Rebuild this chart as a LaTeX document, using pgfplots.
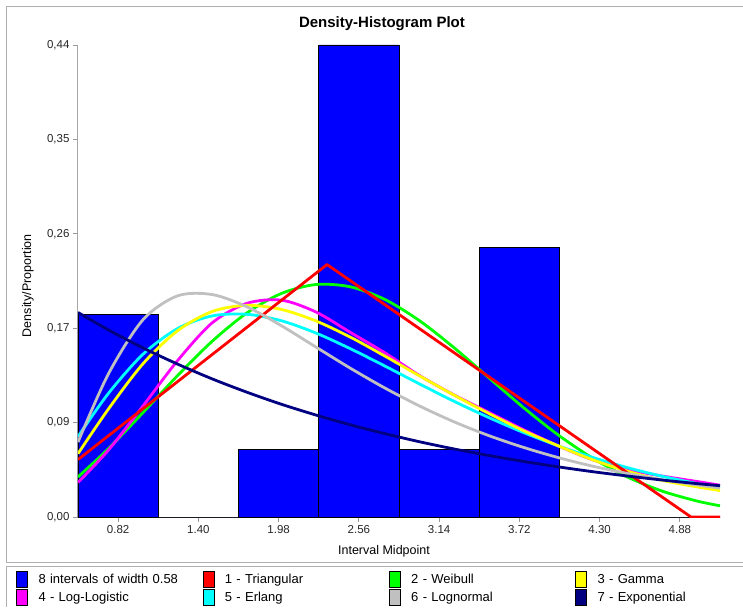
\documentclass[border=0pt]{standalone}
\usepackage{fontspec}
\setmainfont{Liberation Sans}
\usepackage{pgfplots}
\pgfplotsset{compat=1.18}
\usepackage{pgfplotstable}

\definecolor{hblue}{RGB}{0,0,255}
\definecolor{hred}{RGB}{255,0,0}
\definecolor{hgreen}{RGB}{0,255,0}
\definecolor{hyellow}{RGB}{255,255,0}
\definecolor{hmag}{RGB}{255,0,255}
\definecolor{hcyan}{RGB}{0,255,255}
\definecolor{hgray}{RGB}{192,192,192}
\definecolor{hnavy}{RGB}{0,0,128}
\definecolor{framegray}{RGB}{175,175,175}

\pgfplotstableread{
x    p
0.53 0.1875
1.11 0
1.69 0.0625
2.27 0.4375
2.85 0.0625
3.43 0.25
4.01 0
4.59 0
5.17 0
}\hist

\pgfplotstableread{
x    tri
0.53 0.0532
2.33 0.234
4.96 0
5.17 0
}\tri

\pgfplotstableread{
x    weib   gam    loglog erl    lognorm expo
0.53 0.0371 0.0587 0.032  0.0745 0.0694  0.1896
0.75 0.0634 0.1001 0.062  0.1146 0.1327  0.1734
1.00 0.0968 0.1421 0.103  0.1509 0.1829  0.1567
1.25 0.1311 0.1727 0.145  0.1747 0.2050  0.1417
1.50 0.1629 0.1905 0.180  0.1864 0.2062  0.1280
1.75 0.1891 0.1962 0.198  0.1879 0.1949  0.1157
2.00 0.2072 0.1924 0.201  0.1819 0.1773  0.1045
2.25 0.2155 0.1817 0.190  0.1705 0.1575  0.0945
2.50 0.2133 0.1666 0.171  0.1559 0.1378  0.0854
2.75 0.2015 0.1490 0.152  0.1398 0.1194  0.0772
3.00 0.1818 0.1307 0.131  0.1232 0.1028  0.0697
3.25 0.1567 0.1128 0.113  0.1071 0.0881  0.0630
3.50 0.1290 0.0959 0.097  0.0921 0.0754  0.0570
3.75 0.1014 0.0800 0.081  0.0783 0.0645  0.0515
4.00 0.0761 0.0660 0.066  0.0660 0.0551  0.0465
4.25 0.0545 0.0530 0.053  0.0552 0.0471  0.0420
4.50 0.0371 0.0425 0.044  0.0458 0.0404  0.0380
4.75 0.0241 0.0340 0.038  0.0378 0.0346  0.0343
5.00 0.0149 0.0280 0.033  0.0311 0.0297  0.0310
5.17 0.0104 0.0245 0.0295 0.0271 0.0268  0.0290
}\curves

\pgfplotsset{
  legsq/.style={legend image code/.code={%
    \draw[##1, draw=black, line width=0.7pt] (0pt,-7.5pt) rectangle (11pt,8pt);
    \path[draw=none, fill=none] (0pt,0pt) -- (22pt,0pt);}},
  curve/.style={line width=2.8pt, smooth, line join=round, forget plot},
}

\begin{document}
\begin{tikzpicture}[x=1pt,y=1pt]
\useasboundingbox (0,0) rectangle (743,607);
\draw[framegray, line width=1pt] (743,600) -- (6,600) -- (6,45) -- (743,45);
\draw[framegray, line width=1pt] (743,41) -- (6,41) -- (6,0);
\begin{axis}[
  at={(78pt,90pt)}, anchor=south west,
  width=642pt, height=472pt, scale only axis,
  xmin=0.53, xmax=5.17, ymin=0, ymax=0.4375,
  axis x line*=bottom, axis y line*=left,
  x axis line style={draw=black!65, line width=1pt},
  y axis line style={draw=black!35, line width=1pt},
  tick align=outside, major tick length=5pt,
  tick style={draw=black!40, line width=0.8pt},
  xtick={0.82,1.40,1.98,2.56,3.14,3.72,4.30,4.88},
  xticklabels={0.82,1.40,1.98,2.56,3.14,3.72,4.30,4.88},
  ytick={0,0.0875,0.175,0.2625,0.35,0.4375},
  yticklabels={{0,00},{0,09},{0,17},{0,26},{0,35},{0,44}},
  tick label style={font=\fontsize{11.5}{13}\selectfont, text=black!85},
  title={Density-Histogram Plot},
  title style={at={(axis description cs:0.4735,1)}, anchor=center, yshift=15pt,
    font=\fontsize{15}{17}\selectfont\bfseries},
  xlabel={Interval Midpoint},
  xlabel style={at={(axis description cs:0.4766,0)}, anchor=center, yshift=-34pt,
    font=\fontsize{12.5}{14}\selectfont},
  ylabel={Density/Proportion},
  ylabel style={at={(axis description cs:-0.0779,0.49)}, anchor=center,
    font=\fontsize{12.5}{14}\selectfont},
  legend columns=4,
  legend cell align=left,
  legend style={at={(axis description cs:-0.0966,-0.1144)}, anchor=north west,
    draw=none, fill=none, inner sep=0pt, column sep=0pt, row sep=2pt,
    nodes={inner sep=0pt, text width=164pt, align=left,
      font=\fontsize{13}{14}\selectfont}},
]
\addplot[ybar interval, fill=hblue, draw=black, line width=0.8pt, forget plot]
  table[x=x, y=p]{\hist};
\addplot[hgreen, curve] table[x=x, y=weib]{\curves};
\addplot[hmag, curve] table[x=x, y=loglog]{\curves};
\addplot[hcyan, curve] table[x=x, y=erl]{\curves};
\addplot[hyellow, curve] table[x=x, y=gam]{\curves};
\addplot[hred, line width=2.8pt, line join=round, forget plot] table[x=x, y=tri]{\tri};
\addplot[hgray, curve] table[x=x, y=lognorm]{\curves};
\addplot[hnavy, curve] table[x=x, y=expo]{\curves};

\addlegendimage{legsq, fill=hblue}\addlegendentry{8 intervals of width 0.58}
\addlegendimage{legsq, fill=hred}\addlegendentry{1 - Triangular}
\addlegendimage{legsq, fill=hgreen}\addlegendentry{2 - Weibull}
\addlegendimage{legsq, fill=hyellow}\addlegendentry{3 - Gamma}
\addlegendimage{legsq, fill=hmag}\addlegendentry{4 - Log-Logistic}
\addlegendimage{legsq, fill=hcyan}\addlegendentry{5 - Erlang}
\addlegendimage{legsq, fill=hgray}\addlegendentry{6 - Lognormal}
\addlegendimage{legsq, fill=hnavy}\addlegendentry{7 - Exponential}
\end{axis}
\end{tikzpicture}
\end{document}
